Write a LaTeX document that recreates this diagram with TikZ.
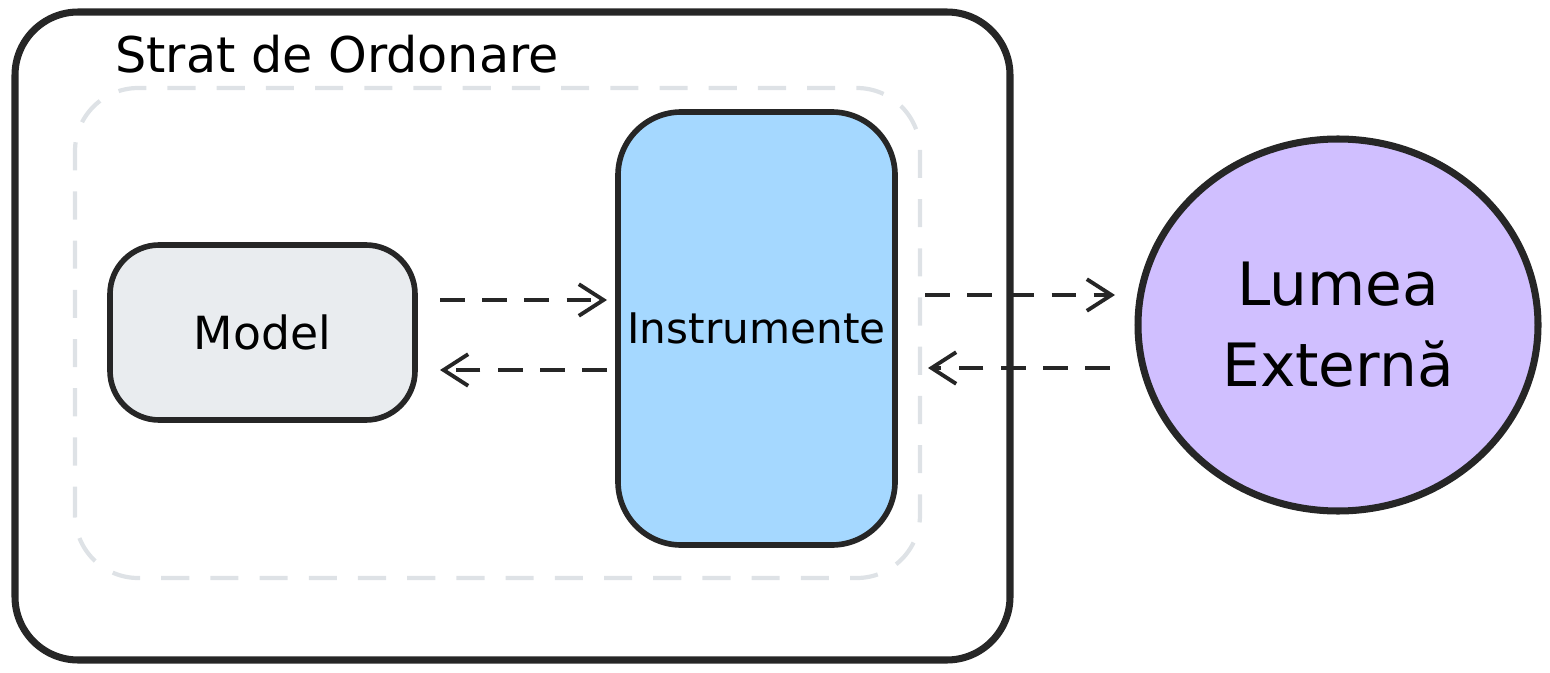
\documentclass[tikz,border=0pt]{standalone}
\usepackage{fontspec}
\setsansfont{DejaVu Sans}
\usetikzlibrary{arrows.meta,calc,shapes.geometric}
\definecolor{box_gray}{HTML}{E9ECEF}
\definecolor{box_blue}{HTML}{A5D8FF}
\definecolor{box_violet}{HTML}{D0BFFF}
\definecolor{dash_gray}{HTML}{DEE2E6}
\tikzset{
    boite/.style={draw=black!85, line width=1.6pt, rounded corners=14pt, inner sep=0pt},
    fleche/.style={-{Straight Barb[length=7pt,width=9pt]}, dashed, dash pattern=on 7pt off 5pt, line width=1.1pt, black!85},
}
\begin{document}
\begin{tikzpicture}[x=1cm,y=1cm,font=\sffamily]

    \useasboundingbox (0,0) rectangle (15.5,6.72);

    % Cadre exterieur et zone pointillee
    \draw[boite, rounded corners=18pt, line width=2pt] (0.15,0.12) rectangle (10.1,6.6);
    \node[anchor=west, font=\sffamily\fontsize{14}{17}\selectfont] (titre) at (1.03,6.18) {Strat de Ordonare};
    \draw[dash_gray, line width=1.2pt, dashed, dash pattern=on 8pt off 6pt, rounded corners=18pt] (0.75,0.94) rectangle (9.2,5.84);

    % Les boites
    \node[boite, fill=box_gray, minimum width=3.05cm, minimum height=1.75cm, font=\sffamily\fontsize{13}{16}\selectfont] (model) at (2.625,3.395) {Model};
    \node[boite, fill=box_blue, minimum width=2.77cm, minimum height=4.33cm, rounded corners=18pt, font=\sffamily\fontsize{12}{15}\selectfont] (instr) at (7.565,3.435) {Instrumente};
    \node[ellipse, draw=black!85, line width=2pt, fill=box_violet, minimum width=4cm, minimum height=3.72cm, align=center, font=\sffamily\fontsize{17}{23}\selectfont] (lumea) at (13.38,3.47) {Lumea\\Externă};

    % Points d'attache des fleches
    \coordinate (m1) at (4.4,3.72);
    \coordinate (m2) at (4.4,3.02);
    \coordinate (i1) at (6.07,3.72);
    \coordinate (i2) at (6.07,3.02);
    \coordinate (i3) at (9.25,3.77);
    \coordinate (i4) at (9.28,3.04);
    \coordinate (l1) at (11.15,3.77);
    \coordinate (l2) at (11.1,3.04);

    % Les fleches
    \draw[fleche] (m1) -- (i1);
    \draw[fleche] (i2) -- (m2);
    \draw[fleche] (i3) -- (l1);
    \draw[fleche] (l2) -- (i4);
\end{tikzpicture}
\end{document}
